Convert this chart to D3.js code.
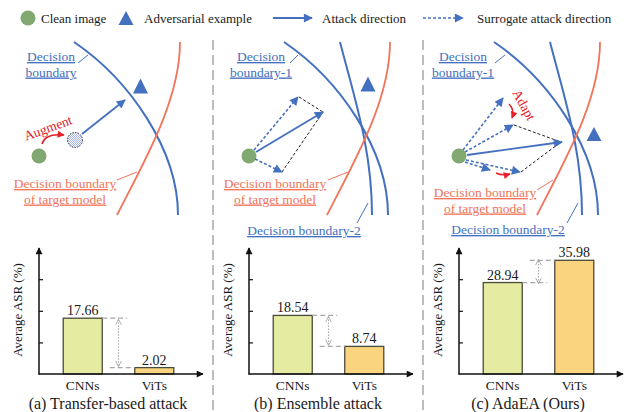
<!DOCTYPE html>
<html><head><meta charset="utf-8">
<script src="https://cdn.jsdelivr.net/npm/d3@7"></script>
<style>
body{margin:0;background:#fff}
svg{display:block}
text{font-family:"Liberation Serif","Times New Roman",serif}
</style>
</head><body>
<svg id="fig" width="625" height="412"></svg>
<script>
// ---- data ----
const categories = ["CNNs", "ViTs"];
const transferASR = [17.66, 2.02];
const ensembleASR = [18.54, 8.74];
const adaeaASR = [28.94, 35.98];
const yTicks = [10, 20, 30];
const captions = ["(a) Transfer-based attack", "(b) Ensemble attack", "(c) AdaEA (Ours)"];
const legendLabels = ["Clean image", "Adversarial example", "Attack direction", "Surrogate attack direction"];
const panelValues = [transferASR, ensembleASR, adaeaASR];

// ---- palette ----
const BLUE = "#4470c0", GREEN = "#80a870", RED = "#f2735a", RED2 = "#e5202a";
const GRAY = "#a8a8a8", CNN_FILL = "#e5eca2", VIT_FILL = "#fad47f", BAR_STROKE = "#4b4b3c";
const SERIF = "'Liberation Serif', 'Times New Roman', serif";

const svg = d3.select("#fig");
const defs = svg.append("defs");

function marker(id, color, w, h) {
  defs.append("marker").attr("id", id).attr("viewBox", "0 0 10 10")
    .attr("refX", 9).attr("refY", 5).attr("markerUnits", "userSpaceOnUse")
    .attr("markerWidth", w).attr("markerHeight", h).attr("orient", "auto")
    .append("path").attr("d", "M0,0 L10,5 L0,10 z").attr("fill", color);
}
marker("ab", BLUE, 11, 9);
marker("ar", RED2, 8, 7);
marker("ak", "#111", 8, 7);
defs.append("marker").attr("id", "ag").attr("viewBox", "0 0 10 10")
  .attr("refX", 9).attr("refY", 5).attr("markerUnits", "userSpaceOnUse")
  .attr("markerWidth", 7).attr("markerHeight", 7).attr("orient", "auto-start-reverse")
  .append("path").attr("d", "M1,1 L9,5 L1,9").attr("fill", "none")
  .attr("stroke", GRAY).attr("stroke-width", 1.3);

// checkered fill for the augmented sample
const pat = defs.append("pattern").attr("id", "chk").attr("patternUnits", "userSpaceOnUse")
  .attr("width", 2).attr("height", 2);
pat.append("rect").attr("width", 2).attr("height", 2).attr("fill", "#f2f5fc");
pat.append("rect").attr("width", 1).attr("height", 1).attr("fill", "#a9b9e3");
pat.append("rect").attr("x", 1).attr("y", 1).attr("width", 1).attr("height", 1).attr("fill", "#a9b9e3");

const tri = (cx, cy, w, h) => `M${cx},${cy - h / 2} L${cx + w / 2},${cy + h / 2} L${cx - w / 2},${cy + h / 2} Z`;
const cubic = (p, dx) => `M${p[0][0] + dx},${p[0][1]} C${p[1][0] + dx},${p[1][1]} ${p[2][0] + dx},${p[2][1]} ${p[3][0] + dx},${p[3][1]}`;

function arrow(g, x1, y1, x2, y2, dashed) {
  g.append("line").attr("x1", x1).attr("y1", y1).attr("x2", x2).attr("y2", y2)
    .attr("stroke", BLUE).attr("stroke-width", dashed ? 1.6 : 1.8)
    .attr("stroke-dasharray", dashed ? "3,2" : null)
    .attr("marker-end", "url(#ab)");
}
function kdash(g, x1, y1, x2, y2) {
  g.append("line").attr("x1", x1).attr("y1", y1).attr("x2", x2).attr("y2", y2)
    .attr("stroke", "#222").attr("stroke-width", 1).attr("stroke-dasharray", "3,2");
}
function label(g, lines, cx, y0, color, size) {
  lines.forEach((t, i) => g.append("text").attr("x", cx).attr("y", y0 + i * 15.5)
    .attr("text-anchor", "middle").attr("font-size", size || 13.5).attr("fill", color)
    .attr("text-decoration", "underline").text(t));
}
function connector(g, x1, y1, x2, y2, color) {
  g.append("line").attr("x1", x1).attr("y1", y1).attr("x2", x2).attr("y2", y2)
    .attr("stroke", color).attr("stroke-width", 1);
}

// ---- legend ----
const lg = svg.append("g");
lg.append("circle").attr("cx", 28).attr("cy", 18).attr("r", 7.5).attr("fill", GREEN);
lg.append("path").attr("d", tri(126, 18, 15, 14)).attr("fill", BLUE);
arrow(lg, 273, 18, 312, 18, false);
arrow(lg, 423, 18, 463, 18, true);
[[41, 0], [144, 1], [322, 2], [477, 3]].forEach(([x, i]) =>
  lg.append("text").attr("x", x).attr("y", 22.5).attr("font-size", 13).attr("fill", "#1a1a1a").text(legendLabels[i]));

// ---- panel separators ----
[213, 423].forEach(x => svg.append("line").attr("x1", x).attr("x2", x).attr("y1", 40).attr("y2", 412)
  .attr("stroke", GRAY).attr("stroke-width", 1.5).attr("stroke-dasharray", "10,5"));

// ---- decision-boundary sketches ----
const boundary1 = [[74, 42], [130, 80], [178, 150], [178, 215]];
const targetBoundary = [[180, 42], [180, 100], [145, 160], [117, 215]];
const boundary2 = [[130, 42], [145, 100], [162, 150], [162, 215]];

const dg = svg.append("g");
[0, 210, 420].forEach((dx, p) => {
  dg.append("path").attr("d", cubic(boundary1, dx)).attr("fill", "none").attr("stroke", BLUE).attr("stroke-width", 2);
  if (p > 0) dg.append("path").attr("d", cubic(boundary2, dx)).attr("fill", "none").attr("stroke", BLUE).attr("stroke-width", 2);
  dg.append("path").attr("d", cubic(targetBoundary, dx)).attr("fill", "none").attr("stroke", RED).attr("stroke-width", 1.8);
});

// panel (a)
label(dg, ["Decision", "boundary"], 51, 61, BLUE);
connector(dg, 78, 63, 88, 55, BLUE);
label(dg, ["Decision boundary", "of target model"], 65, 188, RED);
connector(dg, 117, 180, 137, 172, RED);
dg.append("path").attr("d", tri(140.5, 86, 15, 15)).attr("fill", BLUE);
dg.append("circle").attr("cx", 39).attr("cy", 156).attr("r", 7.5).attr("fill", GREEN);
dg.append("circle").attr("cx", 75).attr("cy", 140).attr("r", 7.5).attr("fill", "url(#chk)")
  .attr("stroke", "#333").attr("stroke-width", 1).attr("stroke-dasharray", "1.5,1.2");
arrow(dg, 82, 134, 125, 100, false);
dg.append("path").attr("d", "M42,144 Q45,133 64,135").attr("fill", "none")
  .attr("stroke", RED2).attr("stroke-width", 1.5).attr("marker-end", "url(#ar)");
dg.append("text").attr("transform", "translate(48,128) rotate(-20)").attr("text-anchor", "middle")
  .attr("dominant-baseline", "central").attr("font-size", 13.5).attr("fill", RED2).text("Augment");

// panel (b)
label(dg, ["Decision", "boundary-1"], 261, 61, BLUE);
connector(dg, 290, 63, 298, 55, BLUE);
label(dg, ["Decision boundary", "of target model"], 275, 188, RED);
connector(dg, 328, 180, 348, 172, RED);
label(dg, ["Decision boundary-2"], 304, 235, BLUE);
connector(dg, 357, 223, 368, 203, BLUE);
dg.append("path").attr("d", tri(368, 84, 15, 15)).attr("fill", BLUE);
kdash(dg, 299, 97, 323, 112);
kdash(dg, 282, 172, 323, 112);
dg.append("circle").attr("cx", 249).attr("cy", 156).attr("r", 7.5).attr("fill", GREEN);
arrow(dg, 254, 150, 298, 97, true);
arrow(dg, 255, 159, 282, 172, true);
arrow(dg, 256, 152, 323, 112, false);

// panel (c)
label(dg, ["Decision", "boundary-1"], 463, 61, BLUE);
connector(dg, 495, 63, 505, 55, BLUE);
label(dg, ["Decision boundary", "of target model"], 485, 197, RED);
connector(dg, 537, 190, 553, 180, RED);
label(dg, ["Decision boundary-2"], 508, 234, BLUE);
connector(dg, 567, 223, 578, 203, BLUE);
dg.append("path").attr("d", tri(594, 134, 15, 14)).attr("fill", BLUE);
kdash(dg, 514, 125, 561, 142);
kdash(dg, 521, 172, 561, 142);
dg.append("circle").attr("cx", 459).attr("cy", 156).attr("r", 7.5).attr("fill", GREEN);
arrow(dg, 463, 150, 503, 98, true);
arrow(dg, 465, 152, 513, 125, true);
arrow(dg, 466, 160, 520, 172, true);
arrow(dg, 465, 162, 490, 170, true);
arrow(dg, 467, 155, 562, 142, false);
dg.append("path").attr("d", "M509,104 Q515,110 512,118").attr("fill", "none")
  .attr("stroke", RED2).attr("stroke-width", 1.5).attr("marker-end", "url(#ar)");
dg.append("path").attr("d", "M496,173 Q502,176 510,174").attr("fill", "none")
  .attr("stroke", RED2).attr("stroke-width", 1.5).attr("marker-end", "url(#ar)");
dg.append("text").attr("transform", "translate(524,105) rotate(61)").attr("text-anchor", "middle")
  .attr("dominant-baseline", "central").attr("font-size", 13.5).attr("fill", RED2).text("Adapt");

// ---- bar charts ----
const y = d3.scaleLinear().domain([0, 40]).range([374, 247.6]);
panelValues.forEach((vals, p) => {
  const ax = 39 + 210 * p;
  const g = svg.append("g");
  const x = d3.scaleBand().domain(categories).range([ax + 8, ax + 151])
    .paddingInner(0.4545).paddingOuter(0.227);

  // bars
  g.selectAll("rect.bar").data(categories).join("rect").attr("class", "bar")
    .attr("x", d => x(d)).attr("width", x.bandwidth())
    .attr("y", (d, i) => y(vals[i])).attr("height", (d, i) => y(0) - y(vals[i]))
    .attr("fill", (d, i) => i === 0 ? CNN_FILL : VIT_FILL)
    .attr("stroke", BAR_STROKE).attr("stroke-width", 1.3);
  g.selectAll("text.val").data(categories).join("text").attr("class", "val")
    .attr("x", d => x(d) + x.bandwidth() / 2).attr("y", (d, i) => y(vals[i]) - 3)
    .attr("text-anchor", "middle").attr("font-size", 14).attr("fill", "#1a1a1a")
    .text((d, i) => vals[i].toFixed(2));

  // gap markers between the two bars
  const cR = x(categories[0]) + x.bandwidth(), vL = x(categories[1]);
  const mid = (cR + vL) / 2;
  g.append("line").attr("x1", cR).attr("x2", cR + 25).attr("y1", y(vals[0])).attr("y2", y(vals[0]))
    .attr("stroke", GRAY).attr("stroke-width", 1.2).attr("stroke-dasharray", "5,3");
  g.append("line").attr("x1", vL - 25).attr("x2", vL).attr("y1", y(vals[1])).attr("y2", y(vals[1]))
    .attr("stroke", GRAY).attr("stroke-width", 1.2).attr("stroke-dasharray", "5,3");
  g.append("line").attr("x1", mid).attr("x2", mid).attr("y1", y(vals[0]) + 1).attr("y2", y(vals[1]) - 1)
    .attr("stroke", GRAY).attr("stroke-width", 1.1).attr("stroke-dasharray", "1.5,1.5")
    .attr("marker-start", "url(#ag)").attr("marker-end", "url(#ag)");

  // axes
  const yAx = g.append("g").attr("transform", `translate(${ax},0)`)
    .call(d3.axisLeft(y).tickValues(yTicks).tickSize(-4).tickFormat(""));
  yAx.select(".domain").remove();
  yAx.selectAll("line").attr("stroke", "#111").attr("stroke-width", 1.2);
  g.append("line").attr("x1", ax).attr("x2", ax).attr("y1", y(0) + 0.5).attr("y2", 248)
    .attr("stroke", "#111").attr("stroke-width", 1.5).attr("marker-end", "url(#ak)");
  g.append("line").attr("x1", ax - 0.5).attr("x2", ax + 164).attr("y1", y(0)).attr("y2", y(0))
    .attr("stroke", "#111").attr("stroke-width", 1.5).attr("marker-end", "url(#ak)");
  const xAx = g.append("g").attr("transform", `translate(0,${y(0)})`)
    .call(d3.axisBottom(x).tickSize(0).tickPadding(6));
  xAx.select(".domain").remove();
  xAx.selectAll("text").attr("font-size", 13.5).attr("fill", "#1a1a1a");

  g.append("text").attr("transform", `translate(${ax - 17},310) rotate(-90)`)
    .attr("text-anchor", "middle").attr("font-size", 13).attr("fill", "#1a1a1a").text("Average ASR (%)");
  g.append("text").attr("x", 108 + 210 * p).attr("y", 408.5).attr("text-anchor", "middle")
    .attr("font-size", 16).attr("fill", "#1a1a1a").text(captions[p]);
});

// every label uses the serif face
svg.selectAll("text").style("font-family", SERIF);
</script>
</body></html>
